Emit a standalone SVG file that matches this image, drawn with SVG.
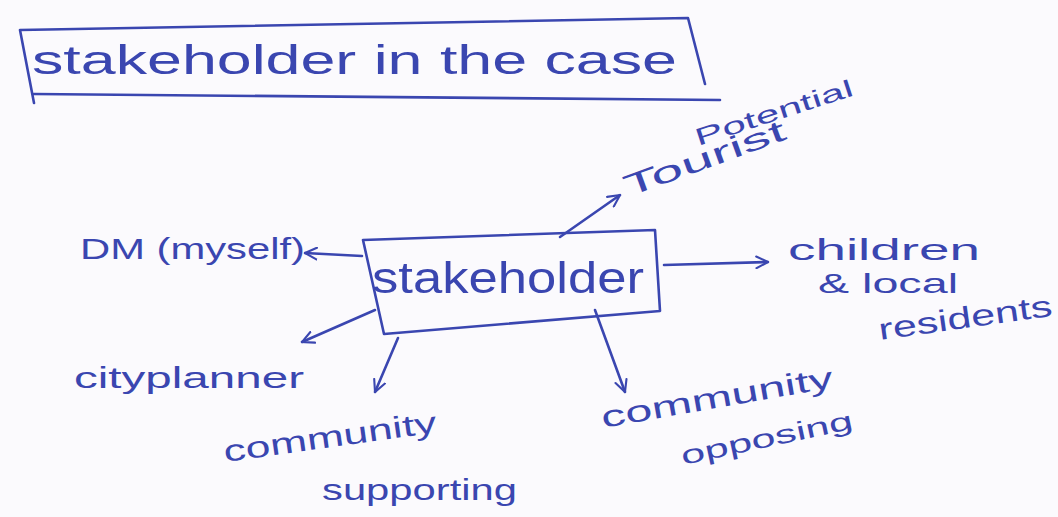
<svg xmlns="http://www.w3.org/2000/svg" width="1058" height="517" viewBox="0 0 1058 517">
<style>
  .ink{fill:none;stroke:#3a46b0;stroke-width:2.6;stroke-linecap:round;stroke-linejoin:round}
  .t{font-family:"Liberation Sans","DejaVu Sans",sans-serif;fill:#3a46b0}
</style>
<defs>
  <marker id="ah" viewBox="0 0 12 12" refX="11" refY="6" markerWidth="14" markerHeight="14" markerUnits="userSpaceOnUse" orient="auto">
    <path d="M1,1 L11,6 L1,11" fill="none" stroke="#3a46b0" stroke-width="1.8" stroke-linecap="round"/>
  </marker>
</defs>
<rect width="1058" height="517" fill="#fbfafd"/>
<g id="title">
  <path class="ink" d="M20,30 L688,18 L705,84 M20,30 L34,103 M34,94 L720,100"/>
  <text class="t" x="32" y="74" font-size="40" textLength="645" lengthAdjust="spacingAndGlyphs">stakeholder in the case</text>
</g>
<g id="center">
  <path class="ink" d="M363,240 L655,230 L660,311 L384,334 Z"/>
  <text class="t" x="372" y="293" font-size="44" textLength="272" lengthAdjust="spacingAndGlyphs">stakeholder</text>
</g>
<g id="dm">
  <text class="t" x="80" y="259" font-size="30" textLength="225" lengthAdjust="spacingAndGlyphs">DM (myself)</text>
</g>
<g id="tourist">
  <text class="t" transform="translate(628,197) rotate(-20)" font-size="30" textLength="170" lengthAdjust="spacingAndGlyphs">Tourist</text>
  <text class="t" transform="translate(698,146) rotate(-18)" font-size="24" textLength="165" lengthAdjust="spacingAndGlyphs">Potential</text>
</g>
<g id="children">
  <text class="t" x="788" y="260" font-size="30" textLength="192" lengthAdjust="spacingAndGlyphs">children</text>
  <text class="t" x="818" y="293" font-size="28" textLength="140" lengthAdjust="spacingAndGlyphs">&amp; local</text>
  <text class="t" transform="translate(880,340) rotate(-8)" font-size="30" textLength="175" lengthAdjust="spacingAndGlyphs">residents</text>
</g>
<g id="planner">
  <text class="t" x="74" y="388" font-size="30" textLength="230" lengthAdjust="spacingAndGlyphs">cityplanner</text>
</g>
<g id="supporting">
  <text class="t" transform="translate(225,462) rotate(-8)" font-size="30" textLength="215" lengthAdjust="spacingAndGlyphs">community</text>
  <text class="t" x="322" y="500" font-size="30" textLength="195" lengthAdjust="spacingAndGlyphs">supporting</text>
</g>
<g id="opposing">
  <text class="t" transform="translate(603,428) rotate(-10)" font-size="30" textLength="235" lengthAdjust="spacingAndGlyphs">community</text>
  <text class="t" transform="translate(683,465) rotate(-12)" font-size="26" textLength="175" lengthAdjust="spacingAndGlyphs">opposing</text>
</g>
<g id="connectors">
  <path class="ink" d="M362,256 L305,253" marker-end="url(#ah)"/>
  <path class="ink" d="M560,237 L620,195" marker-end="url(#ah)"/>
  <path class="ink" d="M664,265 L768,262" marker-end="url(#ah)"/>
  <path class="ink" d="M375,310 L302,342" marker-end="url(#ah)"/>
  <path class="ink" d="M398,338 L375,392" marker-end="url(#ah)"/>
  <path class="ink" d="M595,310 L625,392" marker-end="url(#ah)"/>
</g>
</svg>
